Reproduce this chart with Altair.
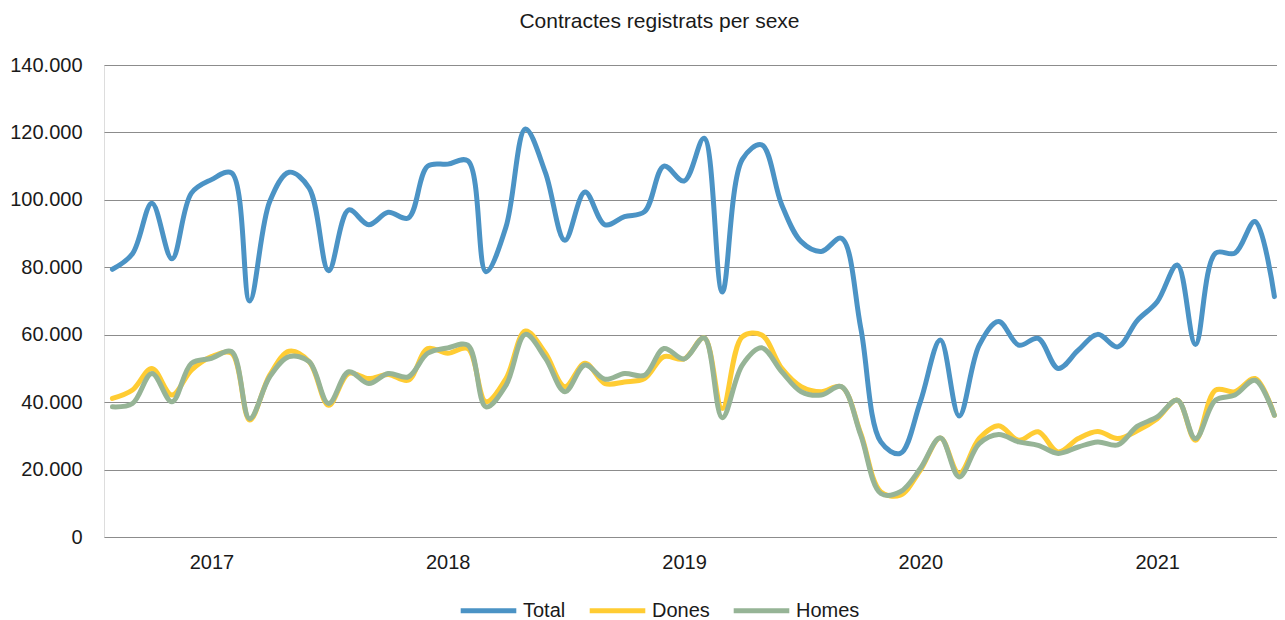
import altair as alt
import pandas as pd

# Monthly data, Aug 2016 .. Jul 2021
months = pd.date_range("2016-08-01", periods=60, freq="MS").strftime("%Y-%m-%dT00:00:00").tolist()

total = [79.4, 84, 99, 82.5, 102, 106, 108, 70, 99.5, 108.2,
         103.5, 79, 97, 92.6, 96.3, 94.6, 110, 110.6, 111.6, 78.7,
         92, 121, 108, 88, 102.3, 92.6, 95, 96.5, 110, 105.6,
         118.3, 72.7, 112, 116.3, 98.5, 87.6, 84.7, 88.6, 62, 28.2,
         24.8, 40.1, 58.4, 35.9, 56.9, 63.9, 56.9, 58.9, 50, 55.4,
         60.1, 56.4, 64.2, 69.8, 80.7, 57.1, 84.2, 84.2, 93.6, 71.3]

dones = [41.1, 43.6, 50, 42.1, 49.5, 53.5, 54.5, 34.7, 48, 55.1,
         52, 39.1, 48.5, 47, 48.2, 46.5, 55.9, 54.5, 55.9, 40.1,
         47, 61.1, 54.5, 44.6, 51.5, 45.5, 46, 47, 53.5, 52.8,
         59.1, 38.1, 59.4, 59.9, 50, 44.6, 43.1, 44.6, 30.7, 13.4,
         12.4, 19.8, 29.4, 18.8, 29.2, 33, 28.7, 31.2, 25.2, 29.2,
         31.3, 29.2, 31.5, 35.1, 40.6, 28.7, 43.6, 43.1, 47, 36.1]

homes = [38.6, 39.6, 48.5, 40.1, 51.5, 53, 55, 35.1, 47.5, 53.5,
         52, 39.6, 49, 45.5, 48.5, 47.5, 54.5, 56.1, 56.9, 38.6,
         45, 60.1, 53, 43.1, 51, 46.8, 48.5, 48, 55.9, 52.8,
         59.1, 35.4, 51, 56.1, 49, 43.1, 42.1, 44.6, 30.2, 12.9,
         13.4, 20.3, 29.4, 17.8, 27.7, 30.4, 28.2, 27.2, 24.8, 26.7,
         28.2, 27.3, 32.8, 35.6, 40.6, 29.2, 40.6, 42.1, 46.5, 36.1]

series_names = ["Total", "Dones", "Homes"]
series_colors = ["#4B93C5", "#FFCC33", "#96B496"]
year_ticks = [2017, 2018, 2019, 2020, 2021]
y_ticks = [0, 20000, 40000, 60000, 80000, 100000, 120000, 140000]

rows = []
for name, vals in zip(series_names, [total, dones, homes]):
    for m, v in zip(months, vals):
        rows.append({"date": m, "serie": name, "value": v * 1000})
df = pd.DataFrame(rows)

FONT = "Liberation Sans"

color = alt.Color(
    "serie:N",
    scale=alt.Scale(domain=series_names, range=series_colors),
    legend=alt.Legend(
        title=None,
        orient="none",
        direction="horizontal",
        legendX=354,
        legendY=515,
        symbolType="stroke",
        symbolSize=3091,
        symbolStrokeWidth=5,
        labelFont=FONT,
        labelFontSize=20,
        labelColor="#1a1a1a",
        labelOffset=4,
        columnPadding=13,
    ),
)

x = alt.X(
    "date:T",
    scale=alt.Scale(domain=[alt.DateTime(year=2016, month=7, date=19),
                            alt.DateTime(year=2021, month=7, date=5)]),
    axis=alt.Axis(
        title=None,
        values=[alt.DateTime(year=y, month=1, date=1) for y in year_ticks],
        format="%Y",
        grid=False,
        domain=False,
        ticks=False,
        tickSize=0,
        labelPadding=15,
        labelFont=FONT,
        labelFontSize=20,
        labelColor="#1a1a1a",
    ),
)

y = alt.Y(
    "value:Q",
    scale=alt.Scale(domain=[0, 140000], nice=False),
    axis=alt.Axis(
        title=None,
        values=y_ticks,
        labelExpr="replace(format(datum.value, ',.0f'), ',', '.')",
        grid=True,
        gridColor="#8c8c8c",
        gridWidth=1.2,
        domain=False,
        ticks=False,
        tickSize=0,
        labelPadding=22,
        labelFont=FONT,
        labelFontSize=20,
        labelColor="#1a1a1a",
    ),
)

layers = []
for name in series_names:
    layers.append(
        alt.Chart(df)
        .transform_filter(alt.datum.serie == name)
        .mark_line(strokeWidth=5, interpolate="catmull-rom", strokeCap="round", strokeJoin="round")
        .encode(x=x, y=y, color=color)
    )

chart = (
    alt.layer(*layers)
    .properties(
        width=1173,
        height=472,
        title=alt.TitleParams(
            "Contractes registrats per sexe",
            font=FONT,
            fontSize=21,
            fontWeight="normal",
            color="#1a1a1a",
            anchor="middle",
            dx=-31,
            dy=-19,
        ),
        autosize=alt.AutoSizeParams(type="none"),
        padding={"left": 96, "top": 57, "right": 0, "bottom": 83},
    )
    .configure_view(stroke=None)
    .configure(background="white")
)

chart.save("out.html", embed_options={"renderer": "svg", "actions": False})
